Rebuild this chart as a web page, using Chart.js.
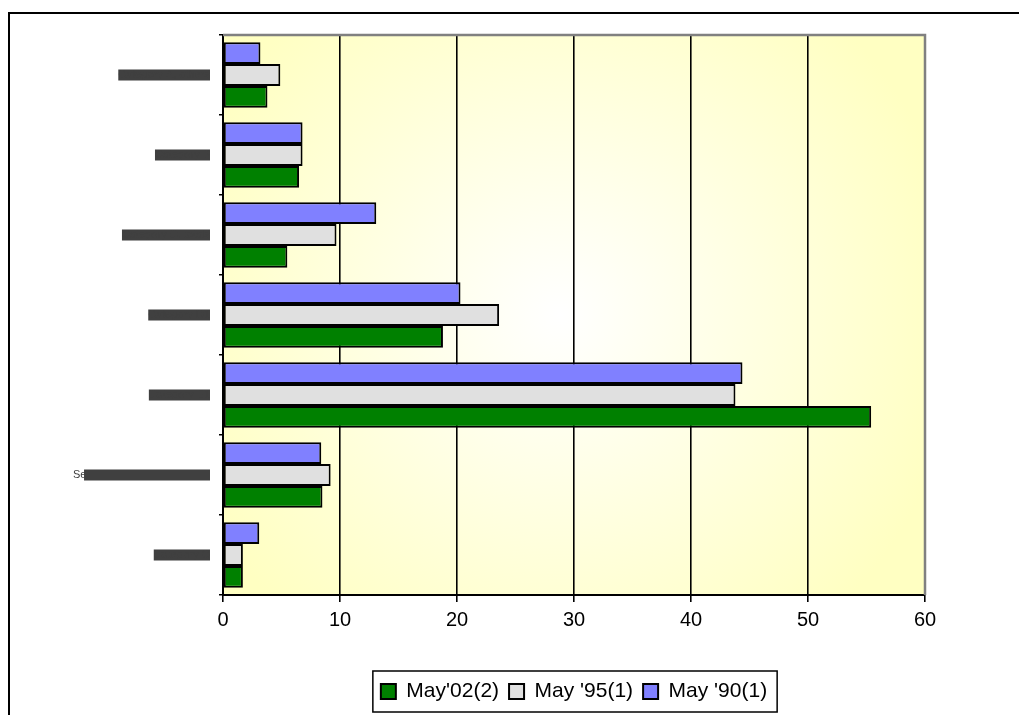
<!DOCTYPE html>
<html>
<head>
<meta charset="utf-8">
<script src="https://cdn.jsdelivr.net/npm/chart.js@4/dist/chart.umd.min.js"></script>
<style>
    html, body { margin: 0; padding: 0; background: #fff; overflow: hidden; }
    #frame { position: absolute; left: 8px; top: 12px; width: 1100px; height: 800px; border: 2px solid #000; }
    #wrap { position: absolute; left: 0; top: 0; width: 1019px; height: 715px; }
</style>
</head>
<body>
<div id="frame"></div>
<div id="wrap"><canvas id="chart" width="1019" height="715"></canvas></div>
<script>
// categories, top to bottom (labels are blacked out in the source)
const categories = [
    'Category A, others',
    'Category B',
    'Category C, totals',
    'Category D1',
    'Category E1',
    'Services and other category',
    'Category G'
];
const seriesNames = ["May '90(1)", "May '95(1)", "May'02(2)"];
const may90 = [3.2, 6.8, 13.1, 20.3, 44.4, 8.4, 3.1];
const may95 = [4.9, 6.8, 9.7, 23.6, 43.8, 9.2, 1.7];
const may02 = [3.8, 6.5, 5.5, 18.8, 55.4, 8.5, 1.7];
const xTicks = [0, 10, 20, 30, 40, 50, 60];

// label whose first letters stick out of the black-out box, and by how much
const partlyCovered = 5;
const uncoveredPx = 11;

const FONT = 'Arial, "Liberation Sans", sans-serif';
const LABEL_FONT = { family: FONT, size: 11, lineHeight: 1 };

// pale yellow radial fill behind the plot, frames, label cover
const decorations = {
    id: 'decorations',
    beforeDraw(chart) {
        const { ctx, chartArea: a } = chart;
        const cx = a.left + a.width * 0.48;
        const cy = a.top + a.height * 0.5;
        const g = ctx.createRadialGradient(cx, cy, 0, cx, cy, Math.hypot(a.width, a.height) * 0.45);
        g.addColorStop(0, '#ffffff');
        g.addColorStop(1, '#ffffc2');
        ctx.save();
        ctx.fillStyle = g;
        ctx.fillRect(a.left, a.top, a.width, a.height);
        ctx.restore();
    },
    afterDraw(chart) {
        const { ctx, chartArea: a, legend } = chart;
        ctx.save();
        // grey top/right edge of the plot
        ctx.strokeStyle = '#808080';
        ctx.lineWidth = 2.5;
        ctx.beginPath();
        ctx.moveTo(a.left, a.top);
        ctx.lineTo(a.right, a.top);
        ctx.lineTo(a.right, a.bottom);
        ctx.stroke();

        // black-out box of the one label that only partly hides its text
        const ys = chart.scales.y;
        const right = ys.right - ys.options.grid.tickLength - ys.options.ticks.padding;
        const y = ys.getPixelForTick(partlyCovered);
        ctx.font = LABEL_FONT.size + 'px ' + FONT;
        const w = ctx.measureText(categories[partlyCovered]).width;
        ctx.fillStyle = '#404040';
        ctx.fillRect(right - w + uncoveredPx, y - LABEL_FONT.size / 2, w - uncoveredPx, LABEL_FONT.size);

        // box round the legend
        const hb = legend.legendHitBoxes;
        if (hb && hb.length) {
            const first = hb[0], last = hb[hb.length - 1];
            const l = first.left - 8;
            const r = last.left + last.width + 10;
            ctx.strokeStyle = '#000';
            ctx.lineWidth = 1.5;
            ctx.strokeRect(l, legend.top, r - l, legend.height);
        }
        ctx.restore();
    }
};

new Chart(document.getElementById('chart'), {
    type: 'bar',
    data: {
        labels: categories,
        datasets: [
            { label: seriesNames[0], data: may90, backgroundColor: '#8080ff' },
            { label: seriesNames[1], data: may95, backgroundColor: '#e0e0e0' },
            { label: seriesNames[2], data: may02, backgroundColor: '#008000' }
        ].map(d => ({ ...d, borderColor: '#000', borderWidth: 2, borderSkipped: false,
                      barPercentage: 1, categoryPercentage: 0.82 }))
    },
    options: {
        indexAxis: 'y',
        responsive: false,
        animation: false,
        layout: { padding: { left: 0, top: 35, right: 94, bottom: 3 } },
        plugins: {
            tooltip: { enabled: false },
            legend: {
                position: 'bottom',
                fullSize: false,
                reverse: true,
                labels: {
                    boxWidth: 15,
                    boxHeight: 15,
                    padding: 10,
                    color: '#000',
                    font: { family: FONT, size: 21 }
                }
            }
        },
        scales: {
            x: {
                min: 0,
                max: 60,
                afterBuildTicks: s => { s.ticks = xTicks.map(v => ({ value: v })); },
                afterFit: s => { s.height = 76; },
                border: { color: '#000', width: 2 },
                grid: {
                    color: c => c.index === xTicks.length - 1 ? 'rgba(0,0,0,0)' : '#000',
                    tickColor: '#000',
                    lineWidth: 1.6,
                    tickLength: 7
                },
                ticks: { color: '#000', padding: 6, font: { family: FONT, size: 20 } }
            },
            y: {
                afterFit: s => { s.width = 223; },
                border: { color: '#000', width: 2 },
                grid: { drawOnChartArea: false, color: '#000', lineWidth: 1.5, tickLength: 4 },
                ticks: {
                    color: '#404040',
                    padding: 9,
                    font: LABEL_FONT,
                    showLabelBackdrop: true,
                    backdropColor: c => c.index === partlyCovered ? 'rgba(0,0,0,0)' : '#404040',
                    backdropPadding: 0
                }
            }
        }
    },
    plugins: [decorations]
});
</script>
</body>
</html>
